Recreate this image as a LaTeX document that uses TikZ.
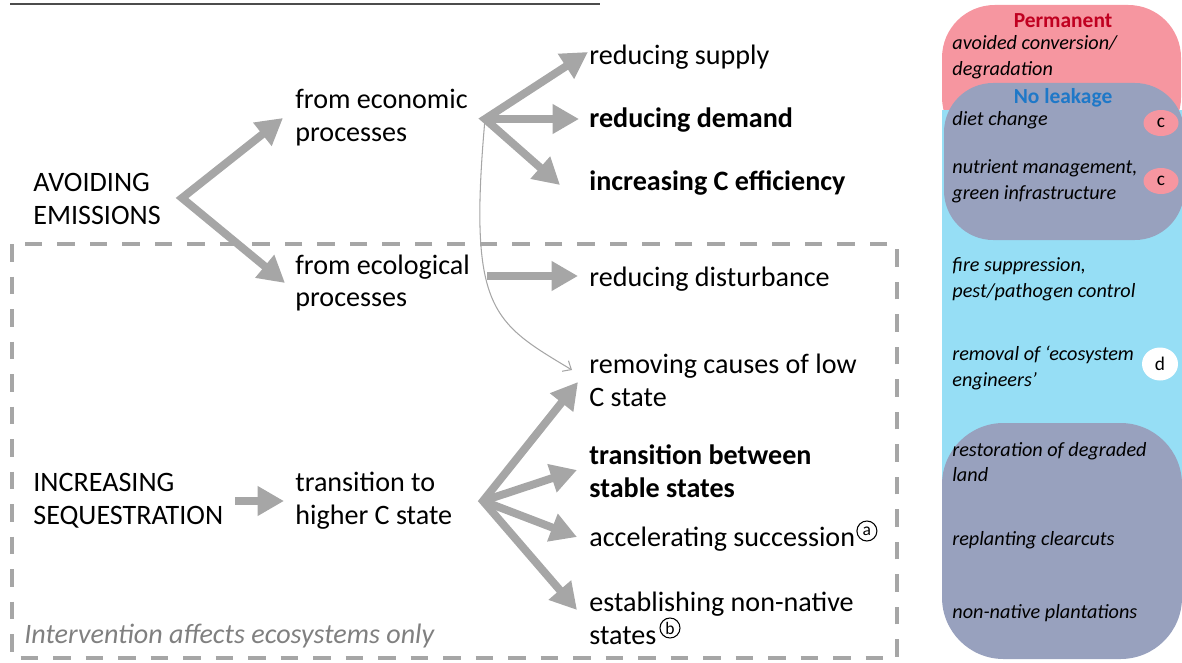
\documentclass[tikz,border=0pt]{standalone}
\usepackage{fontspec}
\setmainfont{Carlito}
\usetikzlibrary{arrows.meta,shapes.geometric}

\definecolor{arrowgrey}{RGB}{166,166,166}
\definecolor{pinkbox}{RGB}{246,150,160}
\definecolor{bluebox}{RGB}{150,222,245}
\definecolor{greybox}{RGB}{152,161,190}
\definecolor{permred}{RGB}{192,0,32}
\definecolor{leakblue}{RGB}{30,120,200}

\tikzset{
	txt/.style={font=\fontsize{16}{18.7}\selectfont, align=left, inner sep=0pt, anchor=west},
	btxt/.style={txt, font=\bfseries\fontsize{16}{18.7}\selectfont},
	side/.style={font=\itshape\fontsize{11.5}{14.7}\selectfont, align=left, inner sep=0pt, anchor=west},
	sidehead/.style={font=\bfseries\fontsize{12.2}{14}\selectfont, inner sep=0pt},
	badge/.style={ellipse, inner sep=0pt, minimum width=35*0.02cm, minimum height=26*0.02cm, font=\fontsize{11}{11}\selectfont},
	circmark/.style={circle, draw, line width=0.6pt, inner sep=0pt, minimum size=20*0.02cm, font=\fontsize{10}{10}\selectfont},
	flow/.style={draw=arrowgrey, line width=4.5pt, line join=miter, -{Triangle[length=15pt,width=16pt]}},
	fork/.style={flow, {Triangle[length=15pt,width=16pt]}-{Triangle[length=15pt,width=16pt]}},
	dashbox/.style={draw=arrowgrey, line width=2.3pt, dash pattern=on 10pt off 8.5pt},
	thin/.style={draw=arrowgrey, line width=0.6pt, -{Straight Barb[length=4pt,width=7pt]}}
}

\begin{document}
\begin{tikzpicture}[x=0.02cm,y=-0.02cm]
	\useasboundingbox (0,0) rectangle (1182,662);

	% heading rule
	\draw[line width=1.2pt, draw=black!70] (10,4) -- (600,4);

	% right panel
	\fill[pinkbox, rounded corners=30] (942,5) rectangle (1181,150);
	\fill[bluebox] (942,110) rectangle (1182,600);
	\fill[greybox, rounded corners=28] (944,83) rectangle (1184,240);
	\fill[greybox, rounded corners=35] (942,423) rectangle (1182,659);

	\node[sidehead, text=permred] (perm) at (1063,21) {Permanent};
	\node[side] (conv) at (952,57) {avoided conversion/\\degradation};
	\node[sidehead, text=leakblue] (leak) at (1063,98) {No leakage};
	\node[side] (diet) at (952,120) {diet change};
	\node[side] (nutri) at (952,181) {nutrient management,\\green infrastructure};
	\node[side] (fire) at (952,279) {fire suppression,\\pest/pathogen control};
	\node[side] (removal) at (952,368) {removal of ‘ecosystem\\engineers’};
	\node[side] (resto) at (952,462) {restoration of degraded\\land};
	\node[side] (replant) at (952,540) {replanting clearcuts};
	\node[side] (plant) at (952,613) {non-native plantations};
	\node[badge, fill=pinkbox] (cdiet) at (1161,123) {c};
	\node[badge, fill=pinkbox] (cnutri) at (1161,181) {c};
	\node[badge, fill=white, minimum width=36*0.02cm, minimum height=33*0.02cm] (dremoval) at (1160,364) {d};

	% ecosystem box
	\draw[dashbox] (12,244) rectangle (897,658);
	\node[side, font=\itshape\fontsize{16}{18.7}\selectfont, text=black!50] (only) at (24,636) {Intervention affects ecosystems only};

	% left tree
	\node[txt] (avoid) at (33,199) {AVOIDING\\EMISSIONS};
	\node[txt] (econ) at (295,118) {from economic\\processes};
	\node[txt] (ecol) at (295,283) {from ecological\\processes};
	\node[txt] (supply) at (589,57) {reducing supply};
	\node[btxt] (demand) at (589,120) {reducing demand};
	\node[btxt] (effic) at (589,183) {increasing C efficiency};
	\node[txt] (disturb) at (589,279) {reducing disturbance};
	\node[txt] (causes) at (589,380) {removing causes of low\\C state};
	\node[btxt] (between) at (589,471) {transition between\\stable states};
	\node[txt] (succ) at (589,539) {accelerating succession};
	\node[txt] (nonnat) at (589,618) {establishing non-native\\states};
	\node[circmark, anchor=west] (marka) at ([shift={(1,-8)}]succ.east) {a};
	\node[circmark] (markb) at ([shift={(81,10)}]nonnat.west) {b};
	\node[txt] (incr) at (33,501) {INCREASING\\SEQUESTRATION};
	\node[txt] (trans) at (295,501) {transition to\\higher C state};

	\coordinate (afork) at (182,198);
	\coordinate (efork) at (485,119);
	\coordinate (tfork) at (483,501);

	% arrows
	\draw[fork] ([shift={(-12,0)}]econ.west) -- (afork) -- ([shift={(-10,0)}]ecol.west);
	\draw[fork] ([shift={(-1,-5)}]supply.west) -- (efork) -- ([shift={(-29,2)}]effic.west);
	\draw[flow] (efork) -- ([shift={(-10,-1)}]demand.west);
	\draw[flow] ([shift={(-102,-3)}]disturb.west) -- ([shift={(-11,-3)}]disturb.west);
	\draw[thin] (efork) .. controls (468,310) and (492,322) .. ([shift={(-17,-10)}]causes.west);
	\draw[flow] ([shift={(-60,0)}]trans.west) -- ([shift={(-11,0)}]trans.west);
	\draw[fork] ([shift={(-11,2)}]causes.west) -- (tfork) -- ([shift={(-12,-8)}]nonnat.west);
	\draw[flow] (tfork) -- ([shift={(-12,-1)}]between.west);
	\draw[flow] (tfork) -- ([shift={(-12,-2)}]succ.west);
\end{tikzpicture}
\end{document}
